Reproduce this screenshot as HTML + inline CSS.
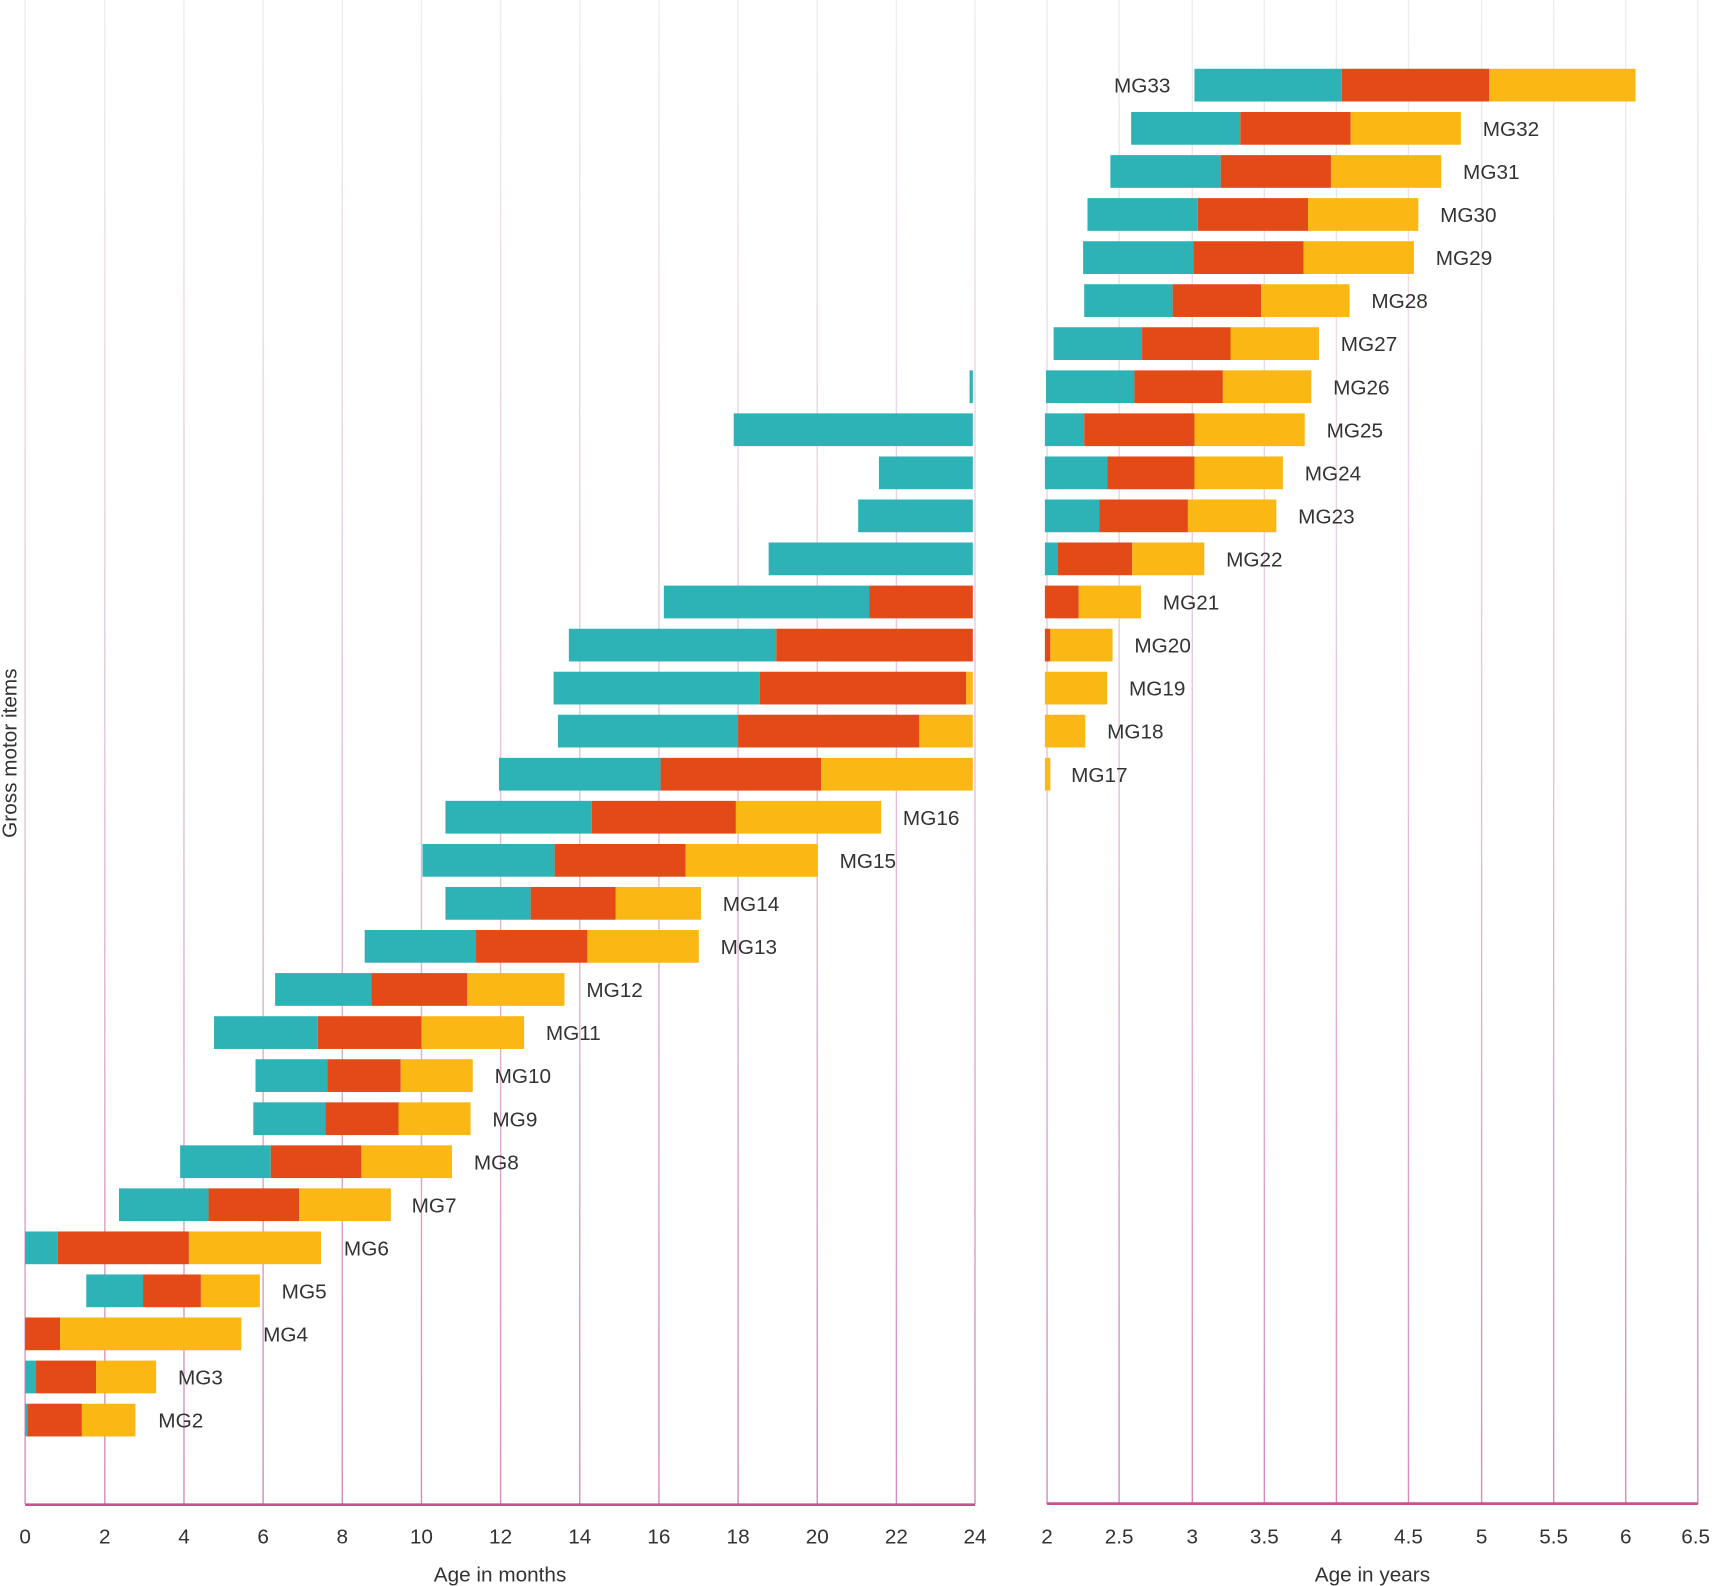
<!DOCTYPE html>
<html><head><meta charset="utf-8"><style>
html,body{margin:0;padding:0;background:#fff;}
svg{display:block;}
text{font-family:"Liberation Sans",sans-serif;fill:#333;}
</style></head><body>
<svg width="1712" height="1586" viewBox="0 0 1568 1453" preserveAspectRatio="none" xmlns="http://www.w3.org/2000/svg">
<defs>
<linearGradient id="g" gradientUnits="userSpaceOnUse" x1="0" y1="0" x2="0" y2="1378">
<stop offset="0" stop-color="#efedf3"/><stop offset="0.5" stop-color="#e6c3da"/><stop offset="1" stop-color="#d58cbd"/>
</linearGradient>
</defs>
<g stroke="url(#g)" stroke-width="1.3">
<line x1="23" y1="0" x2="23" y2="1378"/>
<line x1="96" y1="0" x2="96" y2="1378"/>
<line x1="168.5" y1="0" x2="168.5" y2="1378"/>
<line x1="241" y1="0" x2="241" y2="1378"/>
<line x1="313.5" y1="0" x2="313.5" y2="1378"/>
<line x1="386" y1="0" x2="386" y2="1378"/>
<line x1="458.5" y1="0" x2="458.5" y2="1378"/>
<line x1="531" y1="0" x2="531" y2="1378"/>
<line x1="603.5" y1="0" x2="603.5" y2="1378"/>
<line x1="676" y1="0" x2="676" y2="1378"/>
<line x1="748.5" y1="0" x2="748.5" y2="1378"/>
<line x1="821" y1="0" x2="821" y2="1378"/>
<line x1="893" y1="0" x2="893" y2="1378"/>
<line x1="959" y1="0" x2="959" y2="1378"/>
<line x1="1025" y1="0" x2="1025" y2="1378"/>
<line x1="1092" y1="0" x2="1092" y2="1378"/>
<line x1="1158" y1="0" x2="1158" y2="1378"/>
<line x1="1224" y1="0" x2="1224" y2="1378"/>
<line x1="1290" y1="0" x2="1290" y2="1378"/>
<line x1="1357" y1="0" x2="1357" y2="1378"/>
<line x1="1423" y1="0" x2="1423" y2="1378"/>
<line x1="1489" y1="0" x2="1489" y2="1378"/>
<line x1="1555" y1="0" x2="1555" y2="1378"/>
</g>
<line x1="23" y1="1378.5" x2="893" y2="1378.5" stroke="#c9508c" stroke-width="2.5"/>
<line x1="959" y1="1377.5" x2="1555" y2="1377.5" stroke="#c9508c" stroke-width="2.5"/>

<g id="bars">
<rect x="23" y="1286" width="2" height="30" fill="#2db2b5"/><rect x="25" y="1286" width="50" height="30" fill="#e44a18"/><rect x="75" y="1286" width="49" height="30" fill="#fbb713"/>
<rect x="23" y="1246.5" width="10" height="30" fill="#2db2b5"/><rect x="33" y="1246.5" width="55" height="30" fill="#e44a18"/><rect x="88" y="1246.5" width="55" height="30" fill="#fbb713"/>
<rect x="23" y="1207" width="32" height="30" fill="#e44a18"/><rect x="55" y="1207" width="166" height="30" fill="#fbb713"/>
<rect x="79" y="1167.6" width="52" height="30" fill="#2db2b5"/><rect x="131" y="1167.6" width="53" height="30" fill="#e44a18"/><rect x="184" y="1167.6" width="54" height="30" fill="#fbb713"/>
<rect x="23" y="1128.2" width="30" height="30" fill="#2db2b5"/><rect x="53" y="1128.2" width="120" height="30" fill="#e44a18"/><rect x="173" y="1128.2" width="121" height="30" fill="#fbb713"/>
<rect x="109" y="1088.7" width="82" height="30" fill="#2db2b5"/><rect x="191" y="1088.7" width="83" height="30" fill="#e44a18"/><rect x="274" y="1088.7" width="84" height="30" fill="#fbb713"/>
<rect x="165" y="1049.3" width="83" height="30" fill="#2db2b5"/><rect x="248" y="1049.3" width="83" height="30" fill="#e44a18"/><rect x="331" y="1049.3" width="83" height="30" fill="#fbb713"/>
<rect x="232" y="1009.9" width="66" height="30" fill="#2db2b5"/><rect x="298" y="1009.9" width="67" height="30" fill="#e44a18"/><rect x="365" y="1009.9" width="66" height="30" fill="#fbb713"/>
<rect x="234" y="970.4" width="66" height="30" fill="#2db2b5"/><rect x="300" y="970.4" width="67" height="30" fill="#e44a18"/><rect x="367" y="970.4" width="66" height="30" fill="#fbb713"/>
<rect x="196" y="931" width="95" height="30" fill="#2db2b5"/><rect x="291" y="931" width="95" height="30" fill="#e44a18"/><rect x="386" y="931" width="94" height="30" fill="#fbb713"/>
<rect x="252" y="891.5" width="88" height="30" fill="#2db2b5"/><rect x="340" y="891.5" width="88" height="30" fill="#e44a18"/><rect x="428" y="891.5" width="89" height="30" fill="#fbb713"/>
<rect x="334" y="852" width="102" height="30" fill="#2db2b5"/><rect x="436" y="852" width="102" height="30" fill="#e44a18"/><rect x="538" y="852" width="102" height="30" fill="#fbb713"/>
<rect x="408" y="812.6" width="78" height="30" fill="#2db2b5"/><rect x="486" y="812.6" width="78" height="30" fill="#e44a18"/><rect x="564" y="812.6" width="78" height="30" fill="#fbb713"/>
<rect x="387" y="773.2" width="121" height="30" fill="#2db2b5"/><rect x="508" y="773.2" width="120" height="30" fill="#e44a18"/><rect x="628" y="773.2" width="121" height="30" fill="#fbb713"/>
<rect x="408" y="733.7" width="134" height="30" fill="#2db2b5"/><rect x="542" y="733.7" width="132" height="30" fill="#e44a18"/><rect x="674" y="733.7" width="133" height="30" fill="#fbb713"/>
<rect x="457" y="694.3" width="148" height="30" fill="#2db2b5"/><rect x="605" y="694.3" width="147" height="30" fill="#e44a18"/><rect x="752" y="694.3" width="139" height="30" fill="#fbb713"/>
<rect x="957" y="694.3" width="5" height="30" fill="#fbb713"/>
<rect x="511" y="654.8" width="165" height="30" fill="#2db2b5"/><rect x="676" y="654.8" width="166" height="30" fill="#e44a18"/><rect x="842" y="654.8" width="49" height="30" fill="#fbb713"/>
<rect x="957" y="654.8" width="37" height="30" fill="#fbb713"/>
<rect x="507" y="615.4" width="189" height="30" fill="#2db2b5"/><rect x="696" y="615.4" width="189" height="30" fill="#e44a18"/><rect x="885" y="615.4" width="6" height="30" fill="#fbb713"/>
<rect x="957" y="615.4" width="57" height="30" fill="#fbb713"/>
<rect x="521" y="576" width="190" height="30" fill="#2db2b5"/><rect x="711" y="576" width="180" height="30" fill="#e44a18"/>
<rect x="957" y="576" width="5" height="30" fill="#e44a18"/><rect x="962" y="576" width="57" height="30" fill="#fbb713"/>
<rect x="608" y="536.5" width="188" height="30" fill="#2db2b5"/><rect x="796" y="536.5" width="95" height="30" fill="#e44a18"/>
<rect x="957" y="536.5" width="31" height="30" fill="#e44a18"/><rect x="988" y="536.5" width="57" height="30" fill="#fbb713"/>
<rect x="704" y="497" width="187" height="30" fill="#2db2b5"/>
<rect x="957" y="497" width="12" height="30" fill="#2db2b5"/><rect x="969" y="497" width="68" height="30" fill="#e44a18"/><rect x="1037" y="497" width="66" height="30" fill="#fbb713"/>
<rect x="786" y="457.6" width="105" height="30" fill="#2db2b5"/>
<rect x="957" y="457.6" width="50" height="30" fill="#2db2b5"/><rect x="1007" y="457.6" width="81" height="30" fill="#e44a18"/><rect x="1088" y="457.6" width="81" height="30" fill="#fbb713"/>
<rect x="805" y="418.2" width="86" height="30" fill="#2db2b5"/>
<rect x="957" y="418.2" width="57" height="30" fill="#2db2b5"/><rect x="1014" y="418.2" width="80" height="30" fill="#e44a18"/><rect x="1094" y="418.2" width="81" height="30" fill="#fbb713"/>
<rect x="672" y="378.7" width="219" height="30" fill="#2db2b5"/>
<rect x="957" y="378.7" width="36" height="30" fill="#2db2b5"/><rect x="993" y="378.7" width="101" height="30" fill="#e44a18"/><rect x="1094" y="378.7" width="101" height="30" fill="#fbb713"/>
<rect x="888" y="339.3" width="3" height="30" fill="#2db2b5"/>
<rect x="958" y="339.3" width="81" height="30" fill="#2db2b5"/><rect x="1039" y="339.3" width="81" height="30" fill="#e44a18"/><rect x="1120" y="339.3" width="81" height="30" fill="#fbb713"/>
<rect x="965" y="299.8" width="81" height="30" fill="#2db2b5"/><rect x="1046" y="299.8" width="81" height="30" fill="#e44a18"/><rect x="1127" y="299.8" width="81" height="30" fill="#fbb713"/>
<rect x="993" y="260.4" width="81" height="30" fill="#2db2b5"/><rect x="1074" y="260.4" width="81" height="30" fill="#e44a18"/><rect x="1155" y="260.4" width="81" height="30" fill="#fbb713"/>
<rect x="992" y="221" width="101" height="30" fill="#2db2b5"/><rect x="1093" y="221" width="101" height="30" fill="#e44a18"/><rect x="1194" y="221" width="101" height="30" fill="#fbb713"/>
<rect x="996" y="181.5" width="101" height="30" fill="#2db2b5"/><rect x="1097" y="181.5" width="101" height="30" fill="#e44a18"/><rect x="1198" y="181.5" width="101" height="30" fill="#fbb713"/>
<rect x="1017" y="142.1" width="101" height="30" fill="#2db2b5"/><rect x="1118" y="142.1" width="101" height="30" fill="#e44a18"/><rect x="1219" y="142.1" width="101" height="30" fill="#fbb713"/>
<rect x="1036" y="102.6" width="100" height="30" fill="#2db2b5"/><rect x="1136" y="102.6" width="101" height="30" fill="#e44a18"/><rect x="1237" y="102.6" width="101" height="30" fill="#fbb713"/>
<rect x="1094" y="63" width="135" height="30" fill="#2db2b5"/><rect x="1229" y="63" width="135" height="30" fill="#e44a18"/><rect x="1364" y="63" width="134" height="30" fill="#fbb713"/>
</g>

<g font-size="19" dominant-baseline="central">
<text x="145" y="1302">MG2</text>
<text x="163" y="1262.5">MG3</text>
<text x="241" y="1223">MG4</text>
<text x="258" y="1183.6">MG5</text>
<text x="315" y="1144.2">MG6</text>
<text x="377" y="1104.7">MG7</text>
<text x="434" y="1065.3">MG8</text>
<text x="451" y="1025.9">MG9</text>
<text x="453" y="986.4">MG10</text>
<text x="500" y="947">MG11</text>
<text x="537" y="907.5">MG12</text>
<text x="660" y="868">MG13</text>
<text x="662" y="828.6">MG14</text>
<text x="769" y="789.2">MG15</text>
<text x="827" y="749.7">MG16</text>
<text x="981" y="710.3">MG17</text>
<text x="1014" y="670.8">MG18</text>
<text x="1034" y="631.4">MG19</text>
<text x="1039" y="592">MG20</text>
<text x="1065" y="552.5">MG21</text>
<text x="1123" y="513">MG22</text>
<text x="1189" y="473.6">MG23</text>
<text x="1195" y="434.2">MG24</text>
<text x="1215" y="394.7">MG25</text>
<text x="1221" y="355.3">MG26</text>
<text x="1228" y="315.8">MG27</text>
<text x="1256" y="276.4">MG28</text>
<text x="1315" y="237">MG29</text>
<text x="1319" y="197.5">MG30</text>
<text x="1340" y="158.1">MG31</text>
<text x="1358" y="118.6">MG32</text>
<text x="1072" y="79" text-anchor="end">MG33</text>
</g>

<g font-size="19" text-anchor="middle">
<text x="23" y="1414">0</text><text x="96" y="1414">2</text><text x="168.5" y="1414">4</text><text x="241" y="1414">6</text>
<text x="313.5" y="1414">8</text><text x="386" y="1414">10</text><text x="458.5" y="1414">12</text><text x="531" y="1414">14</text>
<text x="603.5" y="1414">16</text><text x="676" y="1414">18</text><text x="748.5" y="1414">20</text><text x="821" y="1414">22</text>
<text x="893" y="1414">24</text>
<text x="959" y="1414">2</text><text x="1025" y="1414">2.5</text><text x="1092" y="1414">3</text><text x="1158" y="1414">3.5</text>
<text x="1224" y="1414">4</text><text x="1290" y="1414">4.5</text><text x="1357" y="1414">5</text><text x="1423" y="1414">5.5</text>
<text x="1489" y="1414">6</text><text x="1553" y="1414">6.5</text>
<text x="458" y="1449">Age in months</text>
<text x="1257" y="1449">Age in years</text>
<text transform="translate(15,690) rotate(-90)">Gross motor items</text>
</g>
</svg>
</body></html>
